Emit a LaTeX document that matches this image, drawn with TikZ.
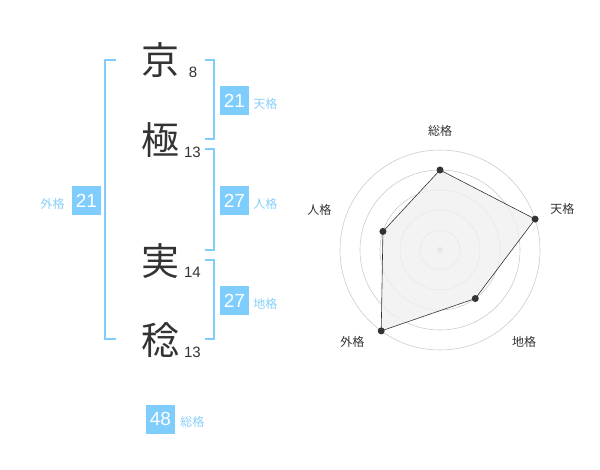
\documentclass[tikz,border=0pt]{standalone}
\usepackage{fontspec}
\setmainfont{Liberation Sans}
\newfontfamily\jafont{Noto Sans CJK JP}
\usepackage{tikz}
\usetikzlibrary{positioning}
\definecolor{skyblue}{RGB}{126, 205, 253}
\definecolor{labelblue}{RGB}{135, 207, 250}
\definecolor{ink}{RGB}{51, 51, 51}
\definecolor{ringgray}{RGB}{204, 204, 204}
\definecolor{areagray}{RGB}{240, 240, 240}
\tikzstyle{kanji} = [text=ink, font=\jafont\fontsize{38}{38}\selectfont, inner sep=0pt]
\tikzstyle{strokes} = [text=ink, font=\fontsize{15}{15}\selectfont, inner sep=0pt, anchor=base]
\tikzstyle{kaku} = [fill=skyblue, text=white, font=\fontsize{19}{19}\selectfont, minimum size=29pt, inner sep=0pt]
\tikzstyle{kakulabel} = [text=labelblue, font=\jafont\fontsize{12}{12}\selectfont, inner sep=0pt]
\tikzstyle{bracket} = [draw=skyblue, line width=2pt]
\tikzstyle{ring} = [draw=ringgray, line width=0.6pt]
\tikzstyle{axislabel} = [text=ink, font=\jafont\fontsize{12}{12}\selectfont, inner sep=0pt]
\tikzstyle{dot} = [circle, fill=ink, inner sep=0pt, minimum size=7pt]

\begin{document}
\begin{tikzpicture}[x=1pt, y=-1pt]
\useasboundingbox (0,0) rectangle (600,470);

% name =============================

% characters
\node[kanji] (k1) at (160,60) {京};
\node[kanji] (k2) at (160,140) {極};
\node[kanji] (k3) at (160,261) {実};
\node[kanji] (k4) at (160,340) {稔};

% stroke counts
\node[strokes] (n1) at (193,77.5) {8};
\node[strokes] (n2) at (192.5,158) {13};
\node[strokes] (n3) at (192.5,278) {14};
\node[strokes] (n4) at (192.5,358) {13};

% brackets
\draw[bracket] (116,60) -- (105,60) -- (105,339) -- (116,339);
\draw[bracket] (205,60) -- (214,60) -- (214,139) -- (205,139);
\draw[bracket] (205,149) -- (214,149) -- (214,250) -- (205,250);
\draw[bracket] (205,260) -- (214,260) -- (214,339) -- (205,339);

% scores
\node[kaku] (ten) at (234.5,100.5) {21};
\node[kakulabel, right=4pt of ten, yshift=-3pt] (tenl) {天格};
\node[kaku] (jin) at (234.5,200.5) {27};
\node[kakulabel, right=4pt of jin, yshift=-3pt] (jinl) {人格};
\node[kaku] (chi) at (234.5,300.5) {27};
\node[kakulabel, right=4pt of chi, yshift=-3pt] (chil) {地格};
\node[kaku] (gai) at (86.5,200.5) {21};
\node[kakulabel, left=7pt of gai, yshift=-3pt] (gail) {外格};
\node[kaku] (sou) at (160.5,419) {48};
\node[kakulabel, right=5pt of sou, yshift=-3pt] (soul) {総格};

% radar =============================
\begin{scope}[shift={(440,250)}, y=1pt]
% rings
\draw[ring] (0,0) circle (20);
\draw[ring] (0,0) circle (40);
\draw[ring] (0,0) circle (60);
\draw[ring] (0,0) circle (80);
\draw[ring] (0,0) circle (100);
\node[circle, fill=ringgray, inner sep=0pt, minimum size=6pt] (mid) at (0,0) {};

% values
\coordinate (p1) at (90:80);
\coordinate (p2) at (18:100);
\coordinate (p3) at (-54:60);
\coordinate (p4) at (-126:100);
\coordinate (p5) at (162:60);
\path[fill=areagray, fill opacity=0.8, draw=ink, line width=0.6pt] (p1) -- (p2) -- (p3) -- (p4) -- (p5) -- cycle;
\node[dot] (d1) at (p1) {};
\node[dot] (d2) at (p2) {};
\node[dot] (d3) at (p3) {};
\node[dot] (d4) at (p4) {};
\node[dot] (d5) at (p5) {};

% axis labels
\node[axislabel] (a1) at (90:119) {総格};
\node[axislabel] (a2) at (18.5:129) {天格};
\node[axislabel] (a3) at (-47.6:124.6) {地格};
\node[axislabel] (a4) at (-133.6:127) {外格};
\node[axislabel] (a5) at (161.7:127) {人格};
\end{scope}

\end{tikzpicture}
\end{document}
